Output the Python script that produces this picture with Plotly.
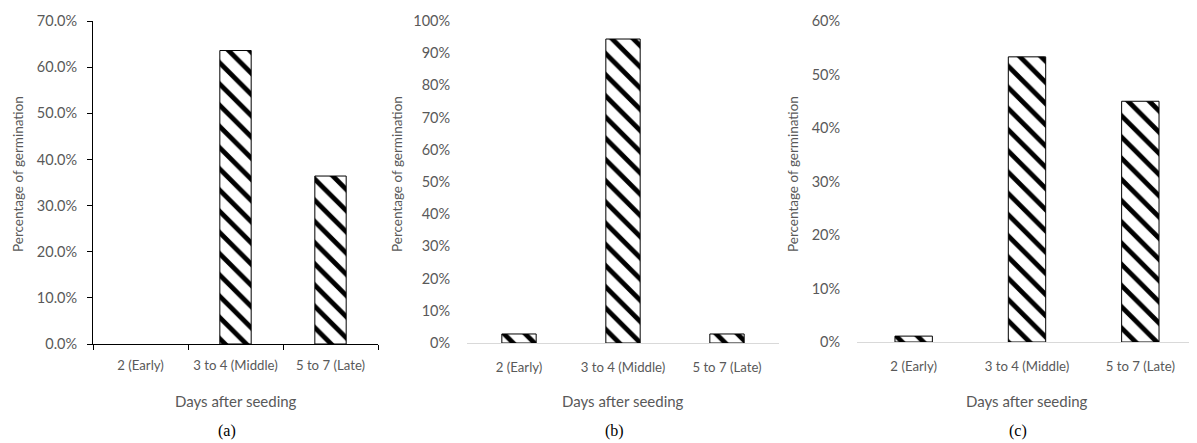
import plotly.graph_objects as go

W, H = 1197, 443
OFF = 8  # browser default body margin
FW, FH = W - OFF, H - OFF

categories = ["2 (Early)", "3 to 4 (Middle)", "5 to 7 (Late)"]
values_a = [0.0, 63.6, 36.4]
values_b = [2.8, 94.4, 2.8]
values_c = [1.1, 53.3, 45.0]
panel_labels = ["(a)", "(b)", "(c)"]
y_max = [70, 100, 60]
y_fmt = [".1f", ".0f", ".0f"]
x_title = "Days after seeding"
y_title = "Percentage of germination"

FONT = "Lato"
GRAY = "#595959"

def px(x):
    return (x - OFF) / FW

def py(y):
    return 1 - (y - OFF) / FH

# plot-area pixel boxes (left, right, top, bottom) in page pixels
boxes = [(93, 378, 21, 344), (467, 779, 21, 343), (857, 1197, 21, 342)]

fig = go.Figure()
series = [values_a, values_b, values_c]
for i, vals in enumerate(series):
    sfx = "" if i == 0 else str(i + 1)
    fig.add_trace(go.Bar(
        x=categories, y=vals, xaxis="x" + sfx, yaxis="y" + sfx,
        width=0.33, showlegend=False, hoverinfo="x+y",
        marker=dict(color="white",
                    line=dict(color="black", width=[0 if v == 0 else 1 for v in vals]),
                    pattern=dict(shape="\\", fgcolor="black", bgcolor="white",
                                 size=15, solidity=0.32, fillmode="replace")),
    ))

layout = dict(width=FW, height=FH, margin=dict(l=0, r=0, t=0, b=0), autosize=False,
              template="none", paper_bgcolor="white", plot_bgcolor="white",
              font=dict(family=FONT, size=13, color=GRAY))

annotations = []
for i, (l, r, t, b) in enumerate(boxes):
    sfx = "" if i == 0 else str(i + 1)
    first = i == 0
    layout["xaxis" + sfx] = dict(
        domain=[px(l), px(r)], anchor="y" + sfx, range=[-0.5, 2.5],
        showline=True, linecolor="black" if first else "#d9d9d9", linewidth=1,
        ticks="outside", tickson="boundaries", ticklen=5 if first else 0,
        tickcolor="black", showgrid=False, zeroline=False, automargin=False,
        tickangle=0, tickfont=dict(family=FONT, size=13.2, color=GRAY),
        ticklabelstandoff=9 if first else 12, fixedrange=True)
    layout["yaxis" + sfx] = dict(
        domain=[py(b), py(t)], anchor="x" + sfx, range=[0, y_max[i]], dtick=10,
        tickformat=y_fmt[i], ticksuffix="%",
        showline=first, linecolor="black", linewidth=1,
        ticks="outside", ticklen=5 if first else 0, tickcolor="black",
        showgrid=False, zeroline=False, automargin=False,
        tickfont=dict(family=FONT, size=14.5, color=GRAY),
        ticklabelstandoff=7 if first else 13, fixedrange=True)
    cx = (l + r) / 2
    annotations.append(dict(text=x_title, x=px(cx), y=py(401), xref="paper", yref="paper",
                            showarrow=False, xanchor="center", yanchor="middle",
                            font=dict(family=FONT, size=15, color=GRAY)))
    annotations.append(dict(text=panel_labels[i], x=px(cx - 9), y=py(431), xref="paper",
                            yref="paper", showarrow=False, xanchor="center", yanchor="middle",
                            font=dict(family="Liberation Serif", size=16, color="black")))
ytitle_x = [18, 397, 793]
for xx in ytitle_x:
    annotations.append(dict(text=y_title, x=px(xx), y=py(174), xref="paper", yref="paper",
                            showarrow=False, textangle=-90, xanchor="center", yanchor="middle",
                            font=dict(family=FONT, size=13.5, color=GRAY)))
layout["annotations"] = annotations
fig.update_layout(**layout)
fig.write_html("out.html")
